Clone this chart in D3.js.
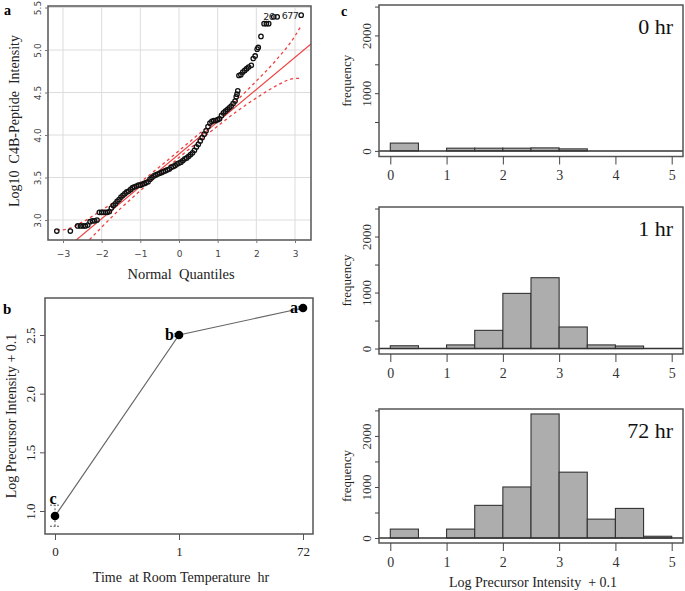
<!DOCTYPE html>
<html><head><meta charset="utf-8">
<script src="https://cdn.jsdelivr.net/npm/d3@7"></script>
<style>
body{margin:0;background:#fff;}
svg{display:block;font-family:"Liberation Serif",serif;}
</style></head>
<body><svg id="c" width="685" height="591"></svg>
<script>
// ---------- Panel a: QQ plot ----------
const qqX = [-3.16,-2.81,-2.62,-2.55,-2.48,-2.42,-2.36,-2.3,-2.24,-2.18,-2.12,
 -2.06,-2.0,-1.95,-1.9,-1.85,-1.8,-1.75,-1.7,-1.65,-1.6,-1.55,-1.5,-1.45,-1.4,-1.35,-1.3,-1.25,-1.2,-1.15,-1.1,-1.05,-1.0,
 -0.95,-0.9,-0.85,-0.8,-0.75,-0.7,-0.65,-0.6,-0.55,-0.5,-0.45,-0.4,-0.35,-0.3,-0.25,-0.2,-0.15,-0.1,-0.05,0,
 0.05,0.1,0.15,0.2,0.25,0.3,0.35,0.4,0.45,0.5,0.55,0.6,0.65,0.7,0.75,0.8,0.85,0.9,0.95,1.0,
 1.05,1.1,1.15,1.2,1.25,1.3,1.35,1.4,1.45,1.48,1.5,1.52,
 1.55,1.6,1.65,1.7,1.75,1.8,1.87,1.92,1.97,2.02,2.05,2.12,2.2,2.26,2.32,2.45,2.54,3.16];
const qqY = [2.87,2.87,2.93,2.93,2.93,2.93,2.94,2.98,2.99,2.99,3.0,
 3.09,3.09,3.09,3.09,3.09,3.10,3.14,3.17,3.19,3.22,3.24,3.27,3.29,3.31,3.33,3.34,3.36,3.38,3.39,3.40,3.41,3.41,
 3.42,3.43,3.44,3.45,3.48,3.50,3.52,3.53,3.54,3.55,3.56,3.57,3.58,3.59,3.60,3.62,3.63,3.64,3.66,3.67,
 3.68,3.70,3.72,3.73,3.75,3.77,3.79,3.82,3.86,3.89,3.93,3.97,4.01,4.05,4.10,4.14,4.16,4.17,4.17,4.18,
 4.19,4.23,4.26,4.28,4.30,4.32,4.34,4.37,4.40,4.45,4.48,4.52,
 4.70,4.71,4.74,4.76,4.78,4.80,4.82,4.90,4.93,5.01,5.03,5.16,5.31,5.31,5.31,5.39,5.39,5.41];
const fitIntercept = 3.775, fitSlope = 0.38;
const envX = [-3.16,-3,-2.5,-2,-1.5,-1,-0.5,0,0.5,1,1.5,2,2.5,3,3.16];
const envHalf = [0.31,0.25,0.15,0.10,0.065,0.05,0.042,0.04,0.042,0.05,0.065,0.10,0.15,0.25,0.31];
const idLabels = [{label:"26", x:2.54, y:5.39},{label:"677", x:3.16, y:5.41}];
const aXTicks = [-3,-2,-1,0,1,2,3];
const aYTicks = [3.0,3.5,4.0,4.5,5.0,5.5];

// ---------- Panel b ----------
const timeCats = ["0","1","72"];
const meanLog = [0.957, 2.50, 2.73];
const errLo = [0.87, 2.49, 2.72];
const errHi = [1.05, 2.51, 2.74];
const groupLetters = ["c","b","a"];
const bYTicks = [1.0,1.5,2.0,2.5];

// ---------- Panel c ----------
const binEdges = [0,0.5,1,1.5,2,2.5,3,3.5,4,4.5,5];
const counts0  = [135,0,47,47,47,52,35,0,0,0];
const counts1  = [50,0,65,325,985,1265,385,65,45,0];
const counts72 = [175,0,175,640,1000,2430,1290,370,580,35];
const histNames = ["0 hr","1 hr","72 hr"];
const cXTicks = [0,1,2,3,4,5];
const cYTicks = [0,500,1000,1500,2000,2500];

const svg = d3.select("#c");
const serif = '"Liberation Serif", serif';

// ===== Panel a =====
{
  const L=48,R=311,T=6,B=240;
  const x = d3.scaleLinear().domain([-3,3]).range([63,295]);
  const y = d3.scaleLinear().domain([3,5.5]).range([220,7.5]);
  const g = svg.append("g");
  g.selectAll(".gx").data(aXTicks).join("line")
    .attr("x1",d=>x(d)).attr("x2",d=>x(d)).attr("y1",T).attr("y2",B)
    .attr("stroke","#dcdcdc").attr("stroke-width",1);
  g.selectAll(".gy").data(aYTicks).join("line")
    .attr("x1",L).attr("x2",R).attr("y1",d=>y(d)).attr("y2",d=>y(d))
    .attr("stroke","#dcdcdc").attr("stroke-width",1);
  svg.append("clipPath").attr("id","clipA").append("rect").attr("x",L).attr("y",T).attr("width",R-L).attr("height",B-T);
  const cg = g.append("g").attr("clip-path","url(#clipA)");
  const xd = x.invert(L), xe = x.invert(R);
  cg.append("line").attr("x1",L).attr("x2",R)
    .attr("y1",y(fitIntercept+fitSlope*xd)).attr("y2",y(fitIntercept+fitSlope*xe))
    .attr("stroke","#f04040").attr("stroke-width",1.2);
  const envData = envX.map((v,i)=>({x:v,h:envHalf[i]}));
  const lineGen = s => d3.line().x(d=>x(d.x)).y(d=>y(fitIntercept+fitSlope*d.x+s*d.h)).curve(d3.curveMonotoneX)(envData);
  [1,-1].forEach(s=>{
    cg.append("path").attr("d",lineGen(s)).attr("fill","none")
      .attr("stroke","#f04040").attr("stroke-width",1.3).attr("stroke-dasharray","3,3");
  });
  cg.selectAll(".pt").data(qqX.map((v,i)=>[v,qqY[i]])).join("circle")
    .attr("cx",d=>x(d[0])).attr("cy",d=>y(d[1])).attr("r",2.2)
    .attr("fill","none").attr("stroke","#111").attr("stroke-width",1.3);
  g.selectAll(".idl").data(idLabels).join("text")
    .attr("x",d=>x(d.x)-3).attr("y",d=>y(d.y)+3.5).attr("text-anchor","end")
    .attr("font-size",9.5).attr("fill","#222").attr("font-family",'"DejaVu Sans",sans-serif')
    .attr("letter-spacing","-0.6").text(d=>d.label);
  g.append("rect").attr("x",L).attr("y",T).attr("width",R-L).attr("height",B-T)
    .attr("fill","none").attr("stroke","#555").attr("stroke-width",1.5);
  const ax = g.append("g").attr("transform",`translate(0,${B})`)
    .call(d3.axisBottom(x).tickValues(aXTicks).tickSize(3).tickPadding(8).tickFormat(d3.format("d")));
  ax.select(".domain").remove();
  ax.selectAll("line").attr("stroke","#777");
  ax.selectAll("text").attr("font-size",9).attr("fill","#444").attr("font-family",'"DejaVu Sans",sans-serif');
  const ay = g.append("g").attr("transform",`translate(${L},0)`)
    .call(d3.axisLeft(y).tickValues(aYTicks).tickSize(3).tickFormat(d3.format(".1f")));
  ay.select(".domain").remove();
  ay.selectAll("line").attr("stroke","#777");
  ay.selectAll("text").attr("font-size",9).attr("fill","#444").attr("font-family",'"DejaVu Sans",sans-serif')
    .attr("x",0).attr("dy",null).attr("text-anchor","middle")
    .attr("transform","translate(-10,0) rotate(-90)").attr("dominant-baseline","middle");
  g.append("text").attr("x",181).attr("y",279).attr("text-anchor","middle")
    .attr("font-size",14.5).attr("fill","#222").attr("xml:space","preserve").text("Normal  Quantiles");
  g.append("text").attr("transform","translate(19,121) rotate(-90)").attr("text-anchor","middle")
    .attr("font-size",14).attr("fill","#222").attr("xml:space","preserve").text("Log10  C4B-Peptide  Intensity");
  g.append("text").attr("x",4).attr("y",15).attr("font-size",14).attr("font-weight","bold").text("a");
}

// ===== Panel b =====
{
  const L=45,R=313,T=298,B=534;
  const x = d3.scalePoint().domain(timeCats).range([55,303]);
  const y = d3.scaleLinear().domain([1.0,2.5]).range([511,335]);
  const g = svg.append("g");
  const pts = timeCats.map((c,i)=>({c,m:meanLog[i],lo:errLo[i],hi:errHi[i],lab:groupLetters[i]}));
  g.append("path").attr("d",d3.line().x(d=>x(d.c)).y(d=>y(d.m))(pts))
    .attr("fill","none").attr("stroke","#666").attr("stroke-width",1.2);
  pts.forEach(d=>{
    g.append("line").attr("x1",x(d.c)).attr("x2",x(d.c)).attr("y1",y(d.lo)).attr("y2",y(d.hi))
      .attr("stroke","#555").attr("stroke-dasharray","2,2");
    [d.lo,d.hi].forEach(v=>g.append("line").attr("x1",x(d.c)-5).attr("x2",x(d.c)+5)
      .attr("y1",y(v)).attr("y2",y(v)).attr("stroke","#555").attr("stroke-dasharray","2,1.5"));
  });
  g.selectAll(".bp").data(pts).join("circle").attr("cx",d=>x(d.c)).attr("cy",d=>y(d.m))
    .attr("r",4.3).attr("fill","#000");
  g.selectAll(".bl").data(pts).join("text")
    .attr("x",(d,i)=> i===0 ? x(d.c)-2 : x(d.c)-5)
    .attr("y",(d,i)=> i===0 ? y(d.hi)-1 : y(d.m)+5)
    .attr("text-anchor",(d,i)=> i===0 ? "middle":"end")
    .attr("font-size",16).attr("font-weight","bold").text(d=>d.lab);
  g.append("rect").attr("x",L).attr("y",T).attr("width",R-L).attr("height",B-T)
    .attr("fill","none").attr("stroke","#555").attr("stroke-width",1.5);
  const ax = g.append("g").attr("transform",`translate(0,${B})`)
    .call(d3.axisBottom(x).tickSize(6).tickPadding(7));
  ax.select(".domain").remove();
  ax.selectAll("line").attr("stroke","#555");
  ax.selectAll("text").attr("font-size",13).attr("fill","#222").attr("font-family",serif);
  const ay = g.append("g").attr("transform",`translate(${L},0)`)
    .call(d3.axisLeft(y).tickValues(bYTicks).tickSize(5).tickFormat(d3.format(".1f")));
  ay.select(".domain").remove();
  ay.selectAll("line").attr("stroke","#555");
  ay.selectAll("text").attr("font-size",13).attr("fill","#222").attr("font-family",serif)
    .attr("x",0).attr("dy",null).attr("text-anchor","middle")
    .attr("transform","translate(-13,0) rotate(-90)").attr("dominant-baseline","middle");
  g.append("text").attr("x",181).attr("y",582).attr("text-anchor","middle")
    .attr("font-size",14).attr("fill","#222").attr("xml:space","preserve").text("Time  at Room Temperature  hr");
  g.append("text").attr("transform","translate(16,416) rotate(-90)").attr("text-anchor","middle")
    .attr("font-size",14).attr("fill","#222").text("Log Precursor Intensity + 0.1");
  g.append("text").attr("x",3).attr("y",314).attr("font-size",15).attr("font-weight","bold").text("b");
}

// ===== Panel c =====
{
  const L=379,R=683;
  const x = d3.scaleLinear().domain([0,5]).range([390.3,671.7]);
  const maxC = d3.max(counts72);
  const pad = maxC*0.04;
  const panels = [
    {counts:counts0, T:5, B:156.5},
    {counts:counts1, T:207, B:354},
    {counts:counts72, T:409, B:543}
  ];
  panels.forEach((p,pi)=>{
    const y = d3.scaleLinear().domain([-pad, maxC+pad]).range([p.B,p.T]);
    const g = svg.append("g");
    const bins = p.counts.map((c,i)=>({x0:binEdges[i],x1:binEdges[i+1],c})).filter(d=>d.c>0);
    g.selectAll("rect.bar").data(bins).join("rect")
      .attr("x",d=>x(d.x0)).attr("width",d=>x(d.x1)-x(d.x0))
      .attr("y",d=>y(d.c)).attr("height",d=>y(0)-y(d.c))
      .attr("fill","#adadad").attr("stroke","#333").attr("stroke-width",1.1);
    g.append("line").attr("x1",L).attr("x2",R).attr("y1",y(0)).attr("y2",y(0))
      .attr("stroke","#333").attr("stroke-width",1.5);
    g.append("rect").attr("x",L).attr("y",p.T).attr("width",R-L).attr("height",p.B-p.T)
      .attr("fill","none").attr("stroke","#555").attr("stroke-width",1.5);
    const ax = g.append("g").attr("transform",`translate(0,${p.B})`)
      .call(d3.axisBottom(x).tickValues(cXTicks).tickSize(8).tickPadding(6).tickFormat(d3.format("d")));
    ax.select(".domain").remove();
    ax.selectAll("line").attr("stroke","#444");
    ax.selectAll("text").attr("font-size",14).attr("fill","#333").attr("font-family",serif);
    const ay = g.append("g").attr("transform",`translate(${L},0)`)
      .call(d3.axisLeft(y).tickValues(cYTicks).tickSize(4)
        .tickFormat(d=> d%1000===0 ? d3.format("d")(d) : ""));
    ay.select(".domain").remove();
    ay.selectAll("line").attr("stroke","#444");
    ay.selectAll("text").attr("font-size",13).attr("fill","#333").attr("font-family",serif)
      .attr("x",0).attr("dy",null).attr("text-anchor","middle")
      .attr("transform","translate(-11,0) rotate(-90)").attr("dominant-baseline","middle");
    g.append("text").attr("transform",`translate(351,${(p.T+p.B)/2}) rotate(-90)`).attr("text-anchor","middle")
      .attr("font-size",13).attr("fill","#222").text("frequency");
    g.append("text").attr("x",673).attr("y",p.T+29).attr("text-anchor","end")
      .attr("font-size",22).attr("fill","#111").text(histNames[pi]);
  });
  svg.append("text").attr("x",533).attr("y",587).attr("text-anchor","middle")
    .attr("font-size",14).attr("fill","#222").attr("xml:space","preserve").text("Log Precursor Intensity  + 0.1");
  svg.append("text").attr("x",341).attr("y",16).attr("font-size",14).attr("font-weight","bold").text("c");
}
</script></body></html>
